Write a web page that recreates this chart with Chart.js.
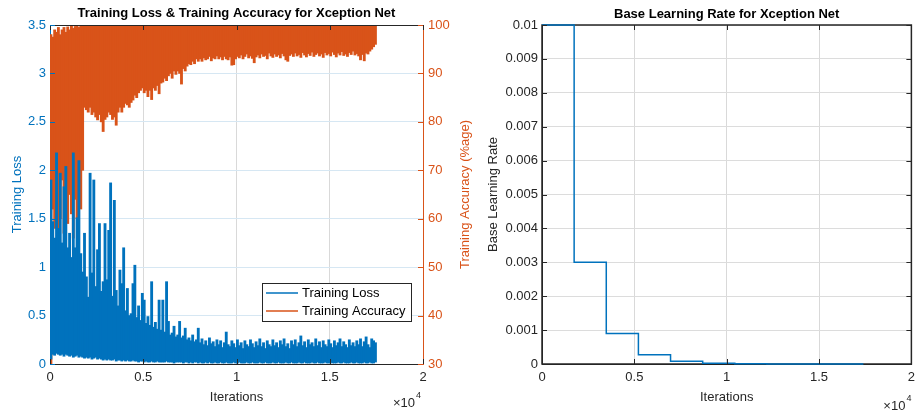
<!DOCTYPE html>
<html>
<head>
<meta charset="utf-8">
<script src="https://cdn.jsdelivr.net/npm/chart.js@4.4.0/dist/chart.umd.min.js"></script>
<style>
  html, body { margin: 0; padding: 0; background: #fff; }
  #wrap { position: relative; width: 921px; height: 410px; }
  #c1 { position: absolute; left: 0; top: 0; }
  #c2 { position: absolute; left: 475px; top: 0; }
</style>
</head>
<body>
<div id="wrap">
  <canvas id="c1" width="475" height="410"></canvas>
  <canvas id="c2" width="446" height="410"></canvas>
</div>
<script>
// the noisy curves are logged every iteration, far denser than the pixels,
// so they are kept as min / max of each 100-iteration bin (read off the plot)
const BIN = 100;

const lossLow = [
  0.05, 0.1, 0.09, 0.11, 0.1, 0.09, 0.1, 0.08, 0.1, 0.09,
  0.08, 0.09, 0.07, 0.08, 0.09, 0.07, 0.08, 0.07, 0.06, 0.07,
  0.06, 0.07, 0.05, 0.06, 0.07, 0.05, 0.06, 0.05, 0.04, 0.05,
  0.04, 0.05, 0.04, 0.04, 0.05, 0.03, 0.04, 0.04, 0.03, 0.04,
  0.03, 0.04, 0.03, 0.03, 0.04, 0.03, 0.03, 0.02, 0.03, 0.03,
  0.02, 0.03, 0.02, 0.02, 0.03, 0.02, 0.02, 0.03, 0.02, 0.02,
  0.02, 0.02, 0.03, 0.02, 0.02, 0.02, 0.01, 0.02, 0.02, 0.02,
  0.02, 0.01, 0.02, 0.02, 0.01, 0.02, 0.01, 0.02, 0.02, 0.01,
  0.02, 0.01, 0.01, 0.02, 0.01, 0.02, 0.01, 0.01, 0.02, 0.01,
  0.01, 0.02, 0.01, 0.01, 0.02, 0.01, 0.01, 0.01, 0.02, 0.01,
  0.01, 0.02, 0.01, 0.01, 0.01, 0.02, 0.01, 0.01, 0.02, 0.01,
  0.01, 0.01, 0.02, 0.01, 0.01, 0.02, 0.01, 0.01, 0.01, 0.02,
  0.01, 0.01, 0.02, 0.01, 0.01, 0.01, 0.02, 0.01, 0.01, 0.02,
  0.01, 0.01, 0.01, 0.02, 0.01, 0.01, 0.02, 0.01, 0.01, 0.01,
  0.02, 0.01, 0.01, 0.02, 0.01, 0.01, 0.01, 0.02, 0.01, 0.01,
  0.02, 0.01, 0.01, 0.01, 0.02, 0.01, 0.01, 0.02, 0.01, 0.01,
  0.01, 0.02, 0.01, 0.01, 0.02, 0.01, 0.01, 0.01, 0.02, 0.01,
  0.01, 0.02, 0.01, 0.01, 0.02
];

const lossHigh = [
  1.9, 1.47, 1.3, 2.18, 1.4, 1.97, 1.25, 1.83, 2.04, 1.2,
  1.35, 1.1, 2.18, 1.2, 1.51, 2.1, 1.14, 0.95, 1.35, 0.9,
  0.69, 1.97, 0.94, 1.9, 0.8, 1.18, 1.45, 0.75, 0.85, 1.45,
  0.87, 1.38, 1.87, 0.7, 1.69, 0.76, 0.6, 0.97, 0.83, 1.2,
  0.55, 0.78, 0.5, 0.52, 0.83, 1.02, 0.48, 0.6, 0.45, 0.73,
  0.66, 0.42, 0.49, 0.4, 0.85, 0.38, 0.43, 0.36, 0.66, 0.35,
  0.66, 0.33, 0.85, 0.44, 0.3, 0.32, 0.39, 0.28, 0.3, 0.44,
  0.27, 0.29, 0.37, 0.25, 0.27, 0.24, 0.3, 0.23, 0.25, 0.37,
  0.22, 0.26, 0.2, 0.24, 0.19, 0.27, 0.21, 0.23, 0.18, 0.25,
  0.2, 0.24, 0.17, 0.22, 0.33, 0.2, 0.18, 0.24, 0.21, 0.17,
  0.25, 0.19, 0.22, 0.16, 0.24, 0.2, 0.18, 0.25, 0.21, 0.17,
  0.23, 0.19, 0.26, 0.18, 0.22, 0.16, 0.24, 0.2, 0.18, 0.25,
  0.19, 0.22, 0.17, 0.24, 0.2, 0.26, 0.18, 0.21, 0.16, 0.24,
  0.2, 0.25, 0.18, 0.22, 0.29, 0.19, 0.23, 0.17, 0.25, 0.2,
  0.22, 0.18, 0.26, 0.19, 0.23, 0.17, 0.24, 0.2, 0.18, 0.25,
  0.21, 0.17, 0.24, 0.19, 0.22, 0.26, 0.18, 0.23, 0.2, 0.17,
  0.25, 0.19, 0.22, 0.18, 0.24, 0.2, 0.26, 0.18, 0.23, 0.28,
  0.2, 0.17, 0.26, 0.24, 0.22
];

// training accuracy (%), min / max per bin
const accLow = [
  20, 62, 58, 66, 55, 60, 68, 57, 63, 59,
  65, 61, 56, 64, 60, 67, 62, 70, 83, 82.5,
  82, 83, 81.5, 82, 81, 80.4, 81.5, 80, 78, 80.5,
  81, 82, 81.5, 80.5, 81, 79.3, 82, 83, 82, 83,
  83.8, 83.5, 83, 84, 84.5, 85.5, 85, 86, 86.5, 87,
  86, 86.5, 85.2, 86.5, 84.6, 87, 86.5, 87.5, 85.8, 88,
  88.2, 89, 88.5, 89.5, 90, 89, 90.5, 89.8, 90.5, 90,
  87.8, 91, 90.5, 91.5, 92, 91.8, 92.5, 92, 93, 92.5,
  93, 92.5, 93.2, 92.8, 93, 93.5, 92.6, 93.2, 93, 93.6,
  93, 93.4, 92.8, 93.5, 93, 92.8, 93.4, 91.7, 91.8, 93,
  93.5, 93.2, 93.8, 93, 93.5, 94, 93.2, 93.6, 93.1, 92.2,
  93.4, 93.8, 93.2, 94, 93.5, 93.7, 93, 94.2, 93.6, 93.3,
  94, 93.5, 93.8, 93.2, 94.1, 93.6, 92.8, 92.5, 93.7, 94,
  93.5, 94.2, 93.6, 93.9, 93.3, 94.3, 93.8, 93.4, 94.1, 93.7,
  94.4, 93.5, 93.9, 94.2, 93.6, 94, 93.3, 94.3, 93.8, 94.1,
  93.6, 94.4, 93.9, 93.4, 94.2, 93.8, 94.5, 93.7, 94, 93.5,
  94.3, 93.9, 94.6, 93.8, 94.1, 93.6, 92.8, 93.9, 92.6, 94.2,
  94, 94.6, 95, 95.5, 96
];

const accHigh = [
  98, 97.5, 99, 98.5, 99.5, 98, 99, 99.5, 98.5, 99.6,
  99, 99.8, 99.3, 99.7, 100, 99.5, 100, 99.8, 100, 100,
  100, 100, 100, 100, 100, 100, 100, 100, 100, 100,
  100, 100, 100, 100, 100, 100, 100, 100, 100, 100,
  100, 100, 100, 100, 100, 100, 100, 100, 100, 100,
  100, 100, 100, 100, 100, 100, 100, 100, 100, 100,
  100, 100, 100, 100, 100, 100, 100, 100, 100, 100,
  100, 100, 100, 100, 100, 100, 100, 100, 100, 100,
  100, 100, 100, 100, 100, 100, 100, 100, 100, 100,
  100, 100, 100, 100, 100, 100, 100, 100, 100, 100,
  100, 100, 100, 100, 100, 100, 100, 100, 100, 100,
  100, 100, 100, 100, 100, 100, 100, 100, 100, 100,
  100, 100, 100, 100, 100, 100, 100, 100, 100, 100,
  100, 100, 100, 100, 100, 100, 100, 100, 100, 100,
  100, 100, 100, 100, 100, 100, 100, 100, 100, 100,
  100, 100, 100, 100, 100, 100, 100, 100, 100, 100,
  100, 100, 100, 100, 100, 100, 100, 100, 100, 100,
  100, 100, 100, 100, 100
];

// base learning rate schedule: iteration where each step starts, and its rate
const lrBoundaries = [0, 1740, 3480, 5220, 6960, 8700, 10440, 12180, 13920, 15660, 17400];
const lrValues = [0.01, 0.003, 0.0009, 0.00027, 0.000081, 0.0000243, 0.00000729, 0.000002187, 0.0000006561, 0.00000019683, 0.00000019683];

const xTickValues = [0, 5000, 10000, 15000, 20000];

const BLUE = '#0072BD';
const ORANGE = '#D95319';
const DARK = '#262626';
const FONT = '"Liberation Sans", Arial, Helvetica, sans-serif';

Chart.defaults.font.family = FONT;
Chart.defaults.font.size = 13;

const lossBars = lossLow.map((lo, i) => ({ x: i * BIN + BIN / 2, y: [lo, lossHigh[i]] }));
const accBars = accLow.map((lo, i) => ({ x: i * BIN + BIN / 2, y: [lo, accHigh[i]] }));
const lrPoints = lrBoundaries.map((b, i) => ({ x: b, y: lrValues[i] }));

function xScale() {
  return {
    type: 'linear', min: 0, max: 20000, offset: false,
    afterBuildTicks: s => { s.ticks = xTickValues.map(v => ({ value: v })); },
    afterFit: s => { s.height = 46; },
    ticks: { color: DARK, padding: 6, maxRotation: 0, callback: v => String(v / 10000) },
    grid: { color: '#d9d9d9', drawTicks: false, offset: false },
    border: { color: DARK, width: 1 }
  };
}

function text(ctx, str, x, y, font, color, align, rot) {
  ctx.save();
  ctx.translate(x, y);
  if (rot) ctx.rotate(rot);
  ctx.font = font;
  ctx.fillStyle = color;
  ctx.textAlign = align || 'center';
  ctx.textBaseline = 'middle';
  ctx.fillText(str, 0, 0);
  ctx.restore();
}

function exponentLabel(ctx, right, y) {
  text(ctx, '\u00d710', right - 8, y + 3, '13px ' + FONT, DARK, 'right');
  text(ctx, '4', right - 7, y - 4, '9px ' + FONT, DARK, 'left');
}

function inwardTicks(chart, sides) {
  const ctx = chart.ctx, a = chart.chartArea;
  ctx.save();
  ctx.lineWidth = 1;
  const xs = chart.scales.x;
  ctx.strokeStyle = DARK;
  xTickValues.forEach(v => {
    const px = Math.round(xs.getPixelForValue(v)) + 0.5;
    ctx.beginPath();
    ctx.moveTo(px, a.bottom); ctx.lineTo(px, a.bottom - 5);
    ctx.moveTo(px, a.top); ctx.lineTo(px, a.top + 5);
    ctx.stroke();
  });
  sides.forEach(sd => {
    const sc = chart.scales[sd.id];
    ctx.strokeStyle = sd.color;
    sc.ticks.forEach(t => {
      const py = Math.round(sc.getPixelForValue(t.value)) + 0.5;
      ctx.beginPath();
      if (sd.left !== false) { ctx.moveTo(a.left, py); ctx.lineTo(a.left + 5, py); }
      if (sd.right) { ctx.moveTo(a.right, py); ctx.lineTo(a.right - 5, py); }
      ctx.stroke();
    });
  });
  ctx.restore();
}

// left: loss & accuracy
new Chart(document.getElementById('c1'), {
  type: 'bar',
  data: {
    datasets: [
      { label: 'Training Loss', data: lossBars, yAxisID: 'yL', backgroundColor: BLUE, borderWidth: 0, grouped: false, barThickness: 2.2 },
      { label: 'Training Accuracy', data: accBars, yAxisID: 'yR', backgroundColor: ORANGE, borderWidth: 0, grouped: false, barThickness: 2.2 }
    ]
  },
  options: {
    responsive: false, animation: false,
    layout: { padding: { top: 25, left: 0, right: 0, bottom: 0 } },
    plugins: { legend: { display: false }, title: { display: false }, tooltip: { enabled: false } },
    scales: {
      x: xScale(),
      yL: {
        position: 'left', min: 0, max: 3.5,
        afterFit: s => { s.width = 50; },
        ticks: { stepSize: 0.5, color: BLUE, padding: 4, callback: v => String(v) },
        grid: { color: '#d6e7f3', drawTicks: false },
        border: { color: BLUE, width: 1 }
      },
      yR: {
        position: 'right', min: 30, max: 100,
        afterFit: s => { s.width = 52; },
        ticks: { stepSize: 10, color: ORANGE, padding: 5 },
        grid: { drawOnChartArea: false, drawTicks: false },
        border: { color: ORANGE, width: 1 }
      }
    }
  },
  plugins: [{
    id: 'deco1',
    afterDraw(chart) {
      const ctx = chart.ctx, a = chart.chartArea;
      ctx.save();
      ctx.strokeStyle = DARK; ctx.lineWidth = 1;
      ctx.beginPath(); ctx.moveTo(a.left, a.top + 0.5); ctx.lineTo(a.right, a.top + 0.5); ctx.stroke();
      ctx.restore();
      inwardTicks(chart, [{ id: 'yL', color: BLUE }, { id: 'yR', color: ORANGE, left: false, right: true }]);
      const cx = (a.left + a.right) / 2, cy = (a.top + a.bottom) / 2;
      text(ctx, 'Training Loss & Training Accuracy for Xception Net', cx, 13, 'bold 13px ' + FONT, '#000');
      text(ctx, 'Iterations', cx, 397, '13px ' + FONT, DARK);
      text(ctx, 'Training Loss', 17, cy, '13px ' + FONT, BLUE, 'center', -Math.PI / 2);
      text(ctx, 'Training Accuracy (%age)', 465, cy, '13px ' + FONT, ORANGE, 'center', -Math.PI / 2);
      exponentLabel(ctx, a.right, 400);
      // legend box
      ctx.save();
      ctx.fillStyle = '#fff'; ctx.strokeStyle = DARK; ctx.lineWidth = 1;
      ctx.fillRect(262, 283, 149, 38);
      ctx.strokeRect(262.5, 283.5, 149, 38);
      ctx.lineWidth = 1.5;
      ctx.strokeStyle = BLUE;
      ctx.beginPath(); ctx.moveTo(266, 293); ctx.lineTo(298, 293); ctx.stroke();
      ctx.strokeStyle = ORANGE;
      ctx.beginPath(); ctx.moveTo(266, 311); ctx.lineTo(298, 311); ctx.stroke();
      ctx.restore();
      text(ctx, 'Training Loss', 302, 293, '13px ' + FONT, '#000', 'left');
      text(ctx, 'Training Accuracy', 302, 311, '13px ' + FONT, '#000', 'left');
    }
  }]
});

// right: base learning rate
new Chart(document.getElementById('c2'), {
  type: 'line',
  data: {
    datasets: [
      { label: 'Base Learning Rate', data: lrPoints, borderColor: BLUE, borderWidth: 1.5, pointRadius: 0, stepped: 'before', clip: false }
    ]
  },
  options: {
    responsive: false, animation: false,
    layout: { padding: { top: 25, left: 0, right: 5, bottom: 0 } },
    plugins: { legend: { display: false }, title: { display: false }, tooltip: { enabled: false } },
    scales: {
      x: xScale(),
      y: {
        position: 'left', min: 0, max: 0.01,
        afterFit: s => { s.width = 67; },
        ticks: { stepSize: 0.001, color: DARK, padding: 4, callback: v => String(Number(v.toFixed(3))) },
        grid: { color: '#dcdcdc', drawTicks: false },
        border: { color: DARK, width: 1 }
      }
    }
  },
  plugins: [{
    id: 'deco2',
    beforeDatasetsDraw(chart) {
      const ctx = chart.ctx, a = chart.chartArea;
      ctx.save();
      ctx.strokeStyle = DARK; ctx.lineWidth = 1.5;
      ctx.strokeRect(a.left, a.top, a.right - a.left, a.bottom - a.top);
      ctx.restore();
    },
    afterDraw(chart) {
      const ctx = chart.ctx, a = chart.chartArea;
      inwardTicks(chart, [{ id: 'y', color: DARK, right: true }]);
      const cx = (a.left + a.right) / 2, cy = (a.top + a.bottom) / 2;
      text(ctx, 'Base Learning Rate for Xception Net', cx, 14, 'bold 13px ' + FONT, '#000');
      text(ctx, 'Iterations', cx, 397, '13px ' + FONT, DARK);
      text(ctx, 'Base Learning Rate', 18, cy, '13px ' + FONT, DARK, 'center', -Math.PI / 2);
      exponentLabel(ctx, a.right + 2, 403);
    }
  }]
});
</script>
</body>
</html>
